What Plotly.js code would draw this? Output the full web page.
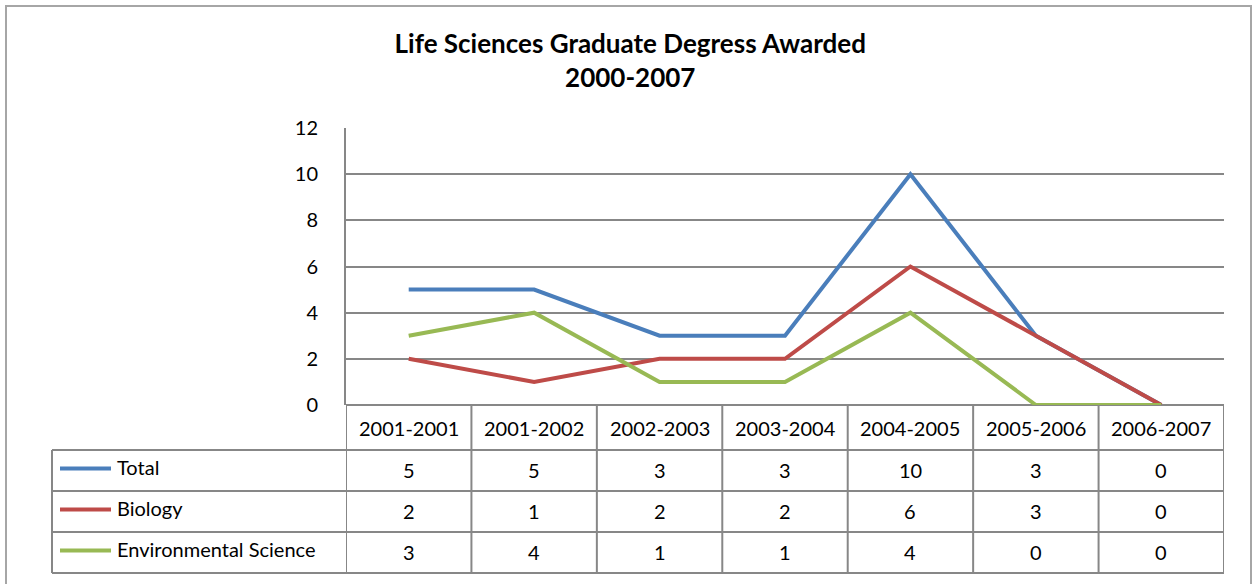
<!DOCTYPE html>
<html>
<head>
<meta charset="utf-8">
<script src="https://cdn.plot.ly/plotly-3.0.1.min.js"></script>
<style>
  html, body { margin: 0; padding: 0; background: #fff; }
  #myPlot { width: 1253px; height: 584px; }
</style>
</head>
<body>
<div id="myPlot"></div>
<script>
const myPlot = document.getElementById('myPlot');

/**
 * Data
 */
const years = ['2001-2001', '2001-2002', '2002-2003', '2003-2004', '2004-2005', '2005-2006', '2006-2007'];
const seriesNames = ['Total', 'Biology', 'Environmental Science'];
const total = [5, 5, 3, 3, 10, 3, 0];
const biology = [2, 1, 2, 2, 6, 3, 0];
const envScience = [3, 4, 1, 1, 4, 0, 0];
const colors = ['#4A7EBB', '#BE4B48', '#98B954'];

const allSeries = [total, biology, envScience];

// plot area in pixels: x 346..1224, y 128..405
const W = 1253, H = 584;
const L = 346, R = 1224, T = 128, B = 405;
const px = (x) => (x - L) / (R - L);
const py = (y) => (B - y) / (B - T);

const grid = '#878787';
const font = 'Lato, Calibri, "Open Sans", sans-serif';
const txtSize = 20;

const data = allSeries.map((vals, i) => ({
  x: years,
  y: vals,
  name: seriesNames[i],
  mode: 'lines',
  type: 'scatter',
  line: { color: colors[i], width: 4 },
  cliponaxis: false
}));

/**
 * Data table below the plot
 */
const rowEdges = [405, 450, 491, 532, 573];
const shapes = [];
const annotations = [];

// outer chart frame
shapes.push({ type: 'rect', xref: 'paper', yref: 'paper',
  x0: px(6), x1: px(1251), y0: py(6), y1: py(590),
  line: { color: '#a6a6a6', width: 2 } });

// header row bottom line (starts at plot left)
shapes.push({ type: 'line', xref: 'paper', yref: 'paper', x0: 0, x1: 1, y0: py(450), y1: py(450), line: { color: grid, width: 2 } });
// body horizontal lines
[450, 491, 532, 573].forEach(y => {
  shapes.push({ type: 'line', xref: 'paper', yref: 'paper', x0: px(52), x1: 1, y0: py(y), y1: py(y), line: { color: grid, width: 2 } });
});
// vertical lines between columns
for (let i = 0; i <= years.length; i++) {
  shapes.push({ type: 'line', xref: 'x', yref: 'paper', x0: i - 0.5, x1: i - 0.5,
    y0: py(405), y1: py(573), line: { color: grid, width: 2 } });
}
// legend column left edge
shapes.push({ type: 'line', xref: 'paper', yref: 'paper', x0: px(52), x1: px(52), y0: py(450), y1: py(573), line: { color: grid, width: 2 } });

// header labels
years.forEach((yr, i) => {
  annotations.push({ x: i, y: py(428), xref: 'x', yref: 'paper', yanchor: 'middle', text: yr, showarrow: false,
    font: { family: font, size: txtSize, color: '#000' } });
});

// series rows
allSeries.forEach((vals, r) => {
  const yc = (rowEdges[r + 1] + rowEdges[r + 2]) / 2;
  shapes.push({ type: 'line', xref: 'paper', yref: 'paper', x0: px(60), x1: px(111),
    y0: py(yc - 2), y1: py(yc - 2), line: { color: colors[r], width: 4 } });
  annotations.push({ x: px(115), y: py(yc - 4), xref: 'paper', yref: 'paper', xanchor: 'left', yanchor: 'middle',
    text: seriesNames[r], showarrow: false, font: { family: font, size: txtSize, color: '#000' } });
  vals.forEach((v, i) => {
    annotations.push({ x: i, y: py(yc - 1), xref: 'x', yref: 'paper', yanchor: 'middle', text: String(v), showarrow: false,
      font: { family: font, size: txtSize, color: '#000' } });
  });
});

/**
 * Layout
 */
const layout = {
  width: W,
  height: H,
  paper_bgcolor: '#fff',
  plot_bgcolor: '#fff',
  showlegend: false,
  margin: { l: L, r: W - R, t: T, b: H - B, pad: 0 },
  title: {
    text: '<b>Life Sciences Graduate Degress Awarded<br>2000-2007</b>',
    x: 0.503, xanchor: 'center', y: 1 - 53 / H, yanchor: 'middle',
    font: { family: font, size: 26, color: '#000' }
  },
  xaxis: {
    type: 'category',
    range: [-0.5, 6.5],
    showticklabels: false,
    showgrid: false,
    zeroline: false,
    showline: false,
    ticks: '',
    fixedrange: true
  },
  yaxis: {
    range: [0, 12],
    dtick: 2,
    showgrid: true,
    gridcolor: grid,
    gridwidth: 2,
    zeroline: true,
    zerolinecolor: grid,
    zerolinewidth: 2,
    showline: true,
    linecolor: grid,
    linewidth: 2,
    ticks: '',
    ticklabelstandoff: 22,
    tickfont: { family: font, size: txtSize, color: '#000' },
    fixedrange: true
  },
  shapes: shapes,
  annotations: annotations
};

Plotly.newPlot(myPlot, data, layout, { displayModeBar: false, staticPlot: true });
</script>
</body>
</html>
